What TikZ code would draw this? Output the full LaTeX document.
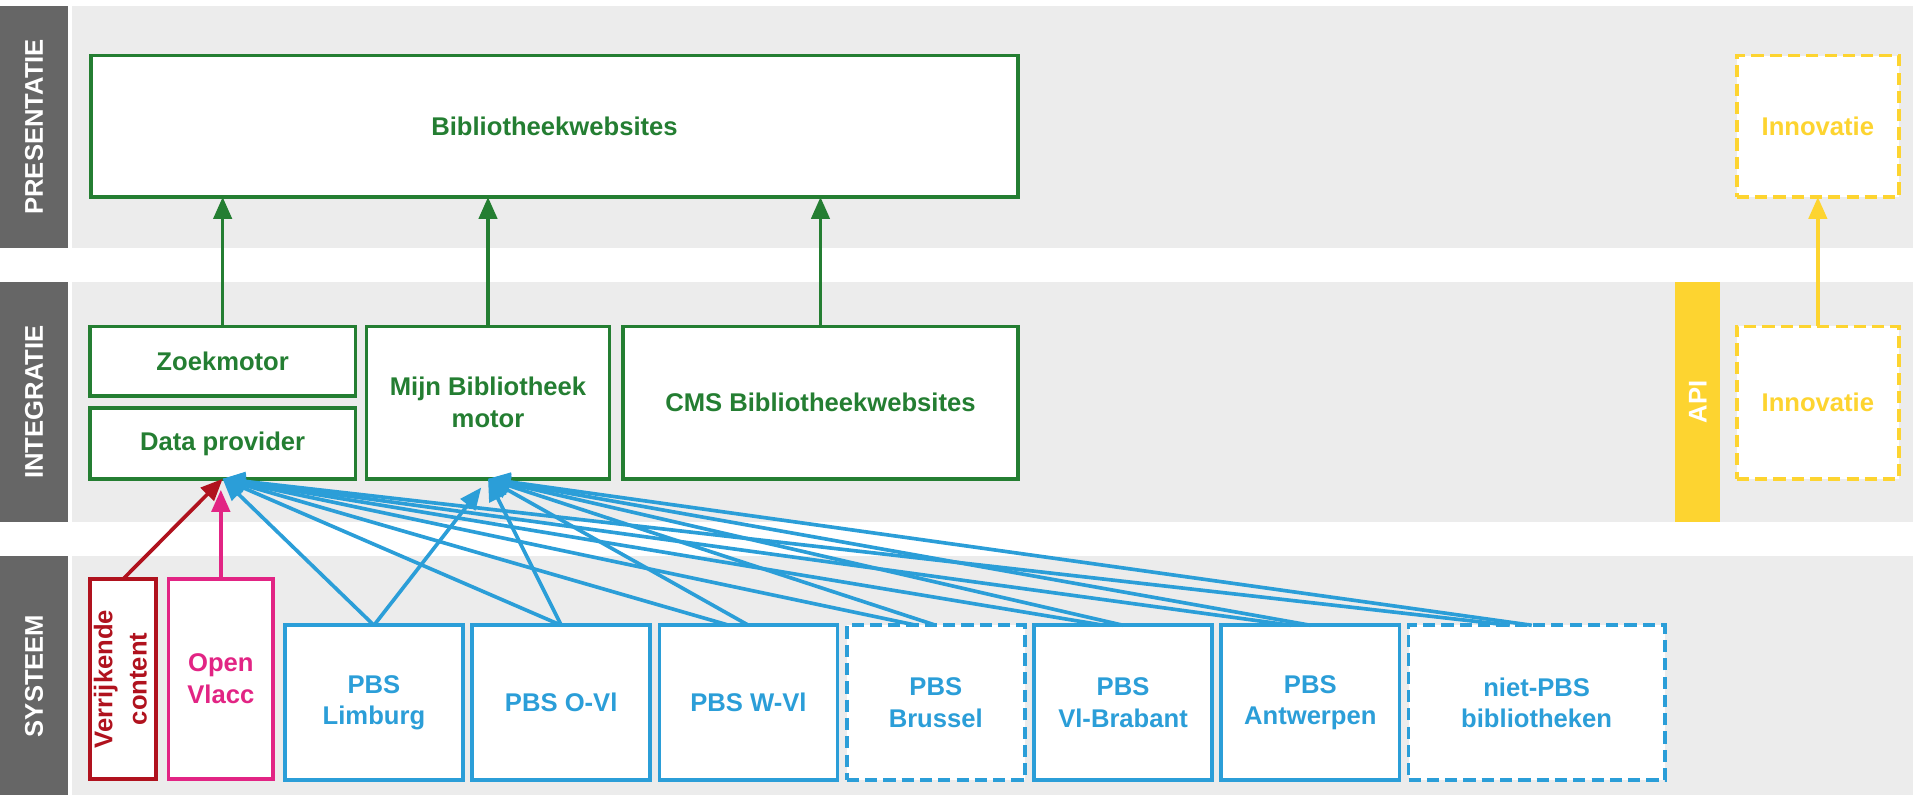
\documentclass[tikz,border=0pt]{standalone}
\usepackage{fontspec}
\setmainfont{Liberation Sans}
\usepackage{tikz}
\usetikzlibrary{positioning,arrows,arrows.meta,calc}
\definecolor{bibgreen}{RGB}{36,126,50}
\definecolor{pbsblue}{RGB}{43,158,216}
\definecolor{contentred}{RGB}{176,18,30}
\definecolor{vlaccpink}{RGB}{226,36,132}
\definecolor{innoyellow}{RGB}{253,212,48}
\definecolor{bandgray}{RGB}{236,236,236}
\definecolor{labelgray}{RGB}{102,102,102}
\newcommand{\boxfont}{\fontsize{21}{26}\selectfont\bfseries}

\begin{document}
\begin{tikzpicture}[x=1pt, y=-1pt,
  >={Triangle[length=18pt,width=15pt]},
  every node/.style={font=\boxfont, align=center, inner sep=0pt},
  laag/.style={fill=labelgray, text=white, minimum width=56pt, minimum height=197pt},
  blok/.style={draw, fill=white, line width=3pt, outer sep=0pt},
  groen/.style={blok, draw=bibgreen, text=bibgreen},
  pbs/.style={blok, draw=pbsblue, text=pbsblue, minimum width=146pt, minimum height=127pt},
  stippel/.style={dash pattern=on 10pt off 5pt},
  inno/.style={blok, stippel, draw=innoyellow, text=innoyellow, minimum width=133pt},
  lijn/.style={line width=3pt}]
\useasboundingbox (0,0) rectangle (1568,652);
% lagen
\fill[bandgray] (59,5) rectangle (1568,203);
\fill[bandgray] (59,231) rectangle (1568,428);
\fill[bandgray] (59,456) rectangle (1568,652);
\node[laag, minimum height=198pt] (presentatie) at (28,104) {\rotatebox{90}{PRESENTATIE}};
\node[laag] (integratie) at (28,329.5) {\rotatebox{90}{INTEGRATIE}};
\node[laag, minimum height=196pt] (systeem) at (28,554) {\rotatebox{90}{SYSTEEM}};
% presentatie
\node[groen, minimum width=760pt, minimum height=116pt] (websites) at (454.5,103.5) {Bibliotheekwebsites};
\node[inno, minimum height=116pt] (innotop) at (1490,103.5) {Innovatie};
% integratie
\node[groen, minimum width=218pt, minimum height=57pt] (zoek) at (182.5,296) {Zoekmotor};
\node[groen, minimum width=218pt, minimum height=58pt, below=10pt of zoek] (dp) {Data provider};
\node[groen, minimum width=199pt, minimum height=125pt, right=9pt of zoek.north east, anchor=north west] (mbm) {Mijn Bibliotheek\\motor};
\node[groen, minimum width=324pt, minimum height=125pt, right=11pt of mbm] (cms) {CMS Bibliotheekwebsites};
\node[fill=innoyellow, text=white, minimum width=37pt, minimum height=197pt] (api) at (1391.5,329.5) {\rotatebox{90}{API}};
\node[inno, minimum height=125pt] (innobot) at (1490,330) {Innovatie};
% systeem
\node[blok, draw=contentred, text=contentred, minimum width=53pt, minimum height=164pt] (verrijk) at (101,556.5)
  {\rotatebox{90}{\begin{tabular}{@{}c@{}}Verrijkende\\[2pt]content\end{tabular}}};
\node[blok, draw=vlaccpink, text=vlaccpink, minimum width=86pt, minimum height=164pt, right=10pt of verrijk] (vlacc) {Open\\Vlacc};
\node[pbs] (limburg) at (306.5,576) {PBS\\Limburg};
\node[pbs, right=7.5pt of limburg] (ovl) {PBS O-Vl};
\node[pbs, right=7.5pt of ovl] (wvl) {PBS W-Vl};
\node[pbs, stippel, right=7.5pt of wvl] (brussel) {PBS\\Brussel};
\node[pbs, right=7.5pt of brussel] (vbr) {PBS\\Vl-Brabant};
\node[pbs, right=7.5pt of vbr] (antw) {PBS\\Antwerpen};
\node[pbs, stippel, minimum width=210pt, right=7.5pt of antw] (nietpbs) {niet-PBS\\bibliotheken};
% pijlen
\path[->, lijn, bibgreen]
  (zoek.north) edge (zoek.north |- websites.south)
  (mbm.north) edge (mbm.north |- websites.south)
  (cms.north) edge (cms.north |- websites.south);
\path[->, lijn, innoyellow] (innobot) edge (innotop);
\path[->, lijn, contentred] (verrijk.north) edge (dp.south);
\path[->, lijn, vlaccpink] (vlacc.north) edge[shorten >=9pt] (vlacc.north |- dp.south);
\path[->, lijn, pbsblue]
  (limburg.north) edge (dp.south)
                  edge[shorten >=9pt] (mbm.south)
  (ovl.north) edge (dp.south)
              edge (mbm.south)
  ([xshift=-16pt]wvl.north) edge (dp.south)
  (wvl.north) edge (mbm.south)
  ([xshift=-16pt]brussel.north) edge (dp.south)
  (brussel.north) edge (mbm.south)
  ([xshift=-16pt]vbr.north) edge (dp.south)
  (vbr.north) edge (mbm.south)
  ([xshift=-16pt]antw.north) edge (dp.south)
  (antw.north) edge (mbm.south)
  ([xshift=-22pt]nietpbs.north) edge (dp.south)
  ([xshift=-4pt]nietpbs.north) edge (mbm.south);
\end{tikzpicture}
\end{document}
